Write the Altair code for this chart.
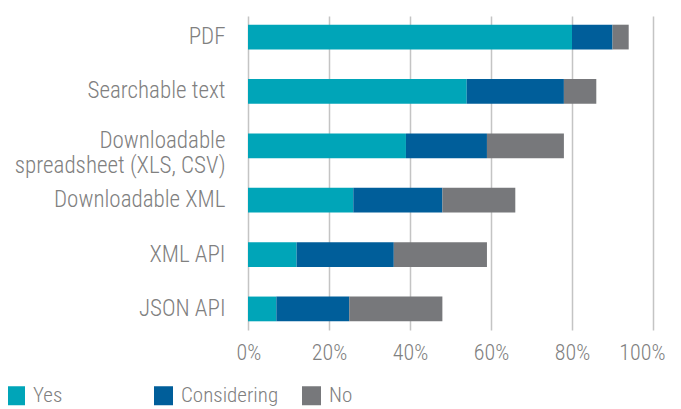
import altair as alt
import pandas as pd

categories = ["PDF", "Searchable text", "Downloadable\nspreadsheet (XLS, CSV)",
              "Downloadable XML", "XML API", "JSON API"]
responses = ["Yes", "Considering", "No"]
yes_vals = [80, 54, 39, 26, 12, 7]
considering_vals = [10, 24, 20, 22, 24, 18]
no_vals = [4, 8, 19, 18, 23, 23]
colors = ["#00A5B8", "#005E9A", "#77787B"]
x_ticks = [0, 0.2, 0.4, 0.6, 0.8, 1.0]

rows = []
for i, c in enumerate(categories):
    for j, (r, vals) in enumerate(zip(responses, [yes_vals, considering_vals, no_vals])):
        rows.append({"cat": c, "resp": r, "val": vals[i] / 100, "ord": j})
df = pd.DataFrame(rows)

FONT = "Roboto Condensed, Liberation Sans Narrow, DejaVu Sans Condensed, sans-serif"
TXT = "#808080"

chart = alt.Chart(df).mark_bar().encode(
    x=alt.X("sum(val):Q", stack="zero",
            scale=alt.Scale(domain=[0, 1], nice=False),
            axis=alt.Axis(values=x_ticks, format=".0%", title=None, domain=False,
                          ticks=False, labelFontSize=22, labelColor=TXT, labelFont=FONT,
                          labelPadding=12, labelFlush=True, labelFlushOffset=12, grid=True,
                          gridColor="#C4C4C4", gridWidth=1.5, labelFontWeight=300)),
    y=alt.Y("cat:N", sort=categories,
            scale=alt.Scale(paddingInner=0.545, paddingOuter=0.16),
            axis=alt.Axis(title=None, domain=False, ticks=False, labelFontSize=23,
                          labelColor=TXT, labelFont=FONT, labelPadding=23,
                          labelFontWeight=300, labelLimit=300, labelLineHeight=25,
                          labelOffset={"condition": {"test": "indexof(datum.value, 'spreadsheet') >= 0",
                                                     "value": -5}, "value": 0},
                          labelExpr="split(datum.label, '\\n')")),
    color=alt.Color("resp:N", sort=responses,
                    scale=alt.Scale(domain=responses, range=colors),
                    legend=alt.Legend(title=None, orient="none", legendX=-243, legendY=369,
                                      direction="horizontal", columns=3, symbolType="square",
                                      symbolSize=361, symbolStrokeWidth=0, labelFontSize=21,
                                      labelColor=TXT, labelFont=FONT, labelFontWeight=300,
                                      labelOffset=7, gridAlign="all", columnPadding=22)),
    order=alt.Order("ord:Q"),
).properties(
    width=405, height=314,
    padding={"left": 240, "top": 8, "right": 20, "bottom": 79},
    autosize=alt.AutoSizeParams(type="none"),
).configure_view(stroke=None)

chart.save("out.html", embed_options={"renderer": "svg", "actions": False})
